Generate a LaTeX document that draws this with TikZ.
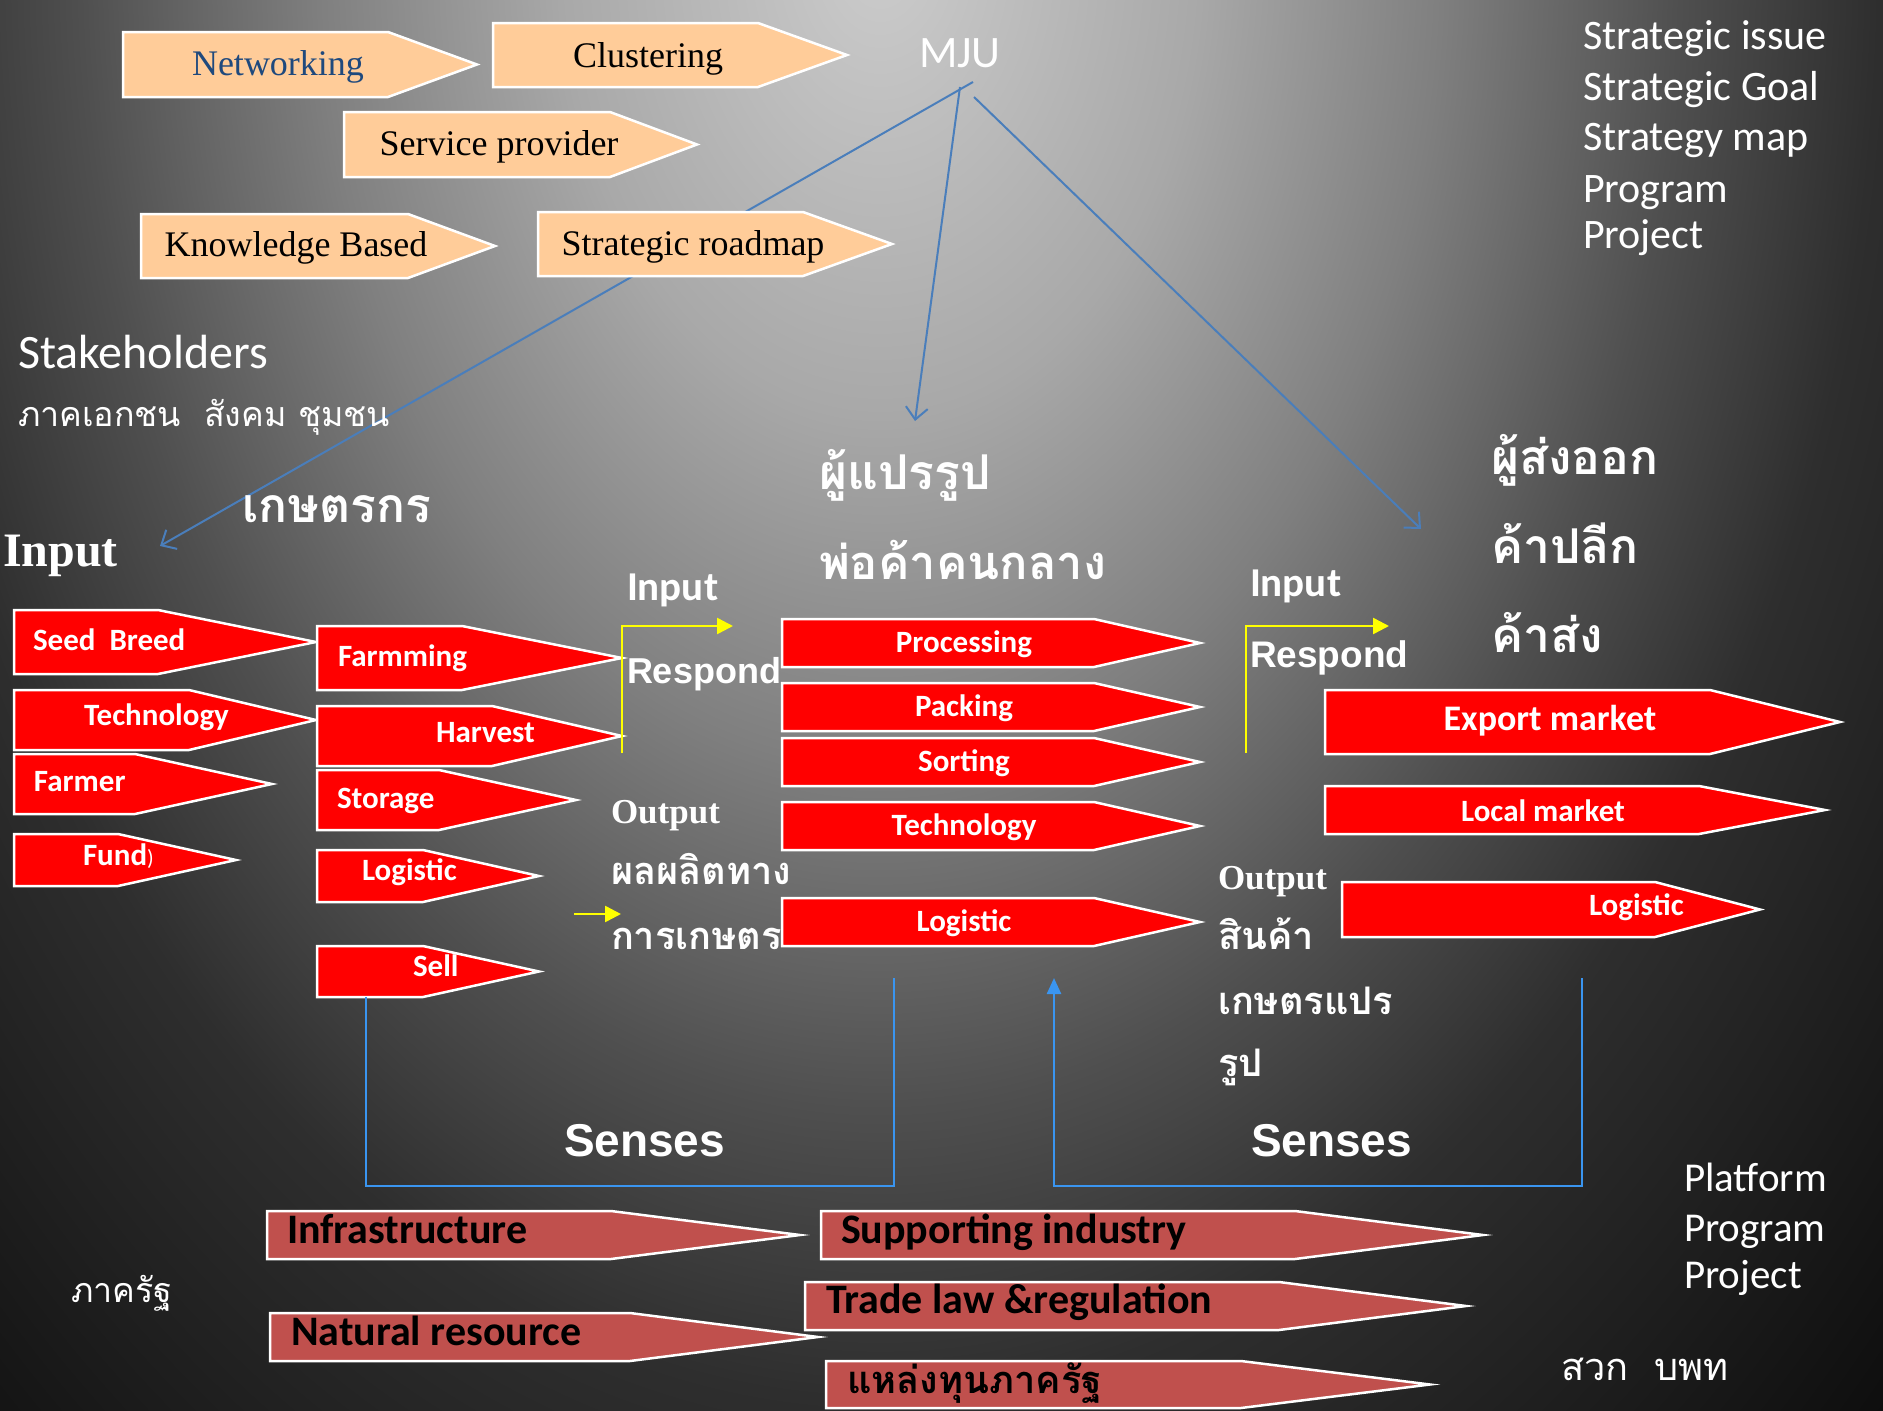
\documentclass[tikz,border=0pt]{standalone}
\usepackage{fontspec}
\setmainfont{Carlito}
\newfontfamily\timesf{Liberation Serif}
\newfontfamily\arialf{Liberation Sans}
\newfontfamily\thaif[Script=Thai]{Loma}
\usetikzlibrary{arrows.meta}
\definecolor{peach}{HTML}{FFCC99}
\definecolor{boxred}{HTML}{FF0000}
\definecolor{brick}{HTML}{C0504D}
\definecolor{linkblue}{HTML}{4A7EBB}
\definecolor{senseblue}{HTML}{3A95F0}
\definecolor{navy}{HTML}{1F497D}
\definecolor{yel}{HTML}{FFFF00}
\definecolor{bg0}{gray}{0.80}
\definecolor{bg1}{gray}{0.66}
\definecolor{bg2}{gray}{0.50}
\definecolor{bg3}{gray}{0.31}
\definecolor{bg4}{gray}{0.18}
\definecolor{bg5}{gray}{0.05}
\pgfdeclareradialshading{bgshade}{\pgfpointorigin}{color(0bp)=(bg0); color(4bp)=(bg1); color(7bp)=(bg2); color(10bp)=(bg3); color(12.5bp)=(bg4); color(18bp)=(bg5); color(25bp)=(bg5); color(50bp)=(bg5)}
\newcommand\fsz[1]{\fontsize{#1}{#1}\selectfont}
\newcommand\pent[6]{\path[#1] (#2,#5) -- (#3,#5) -- (#4,{(#5+#6)/2}) -- (#3,#6) -- (#2,#6) -- cycle;}
\begin{document}
\begin{tikzpicture}[x=1pt,y=-1pt,
  txt/.style={inner sep=0pt, outer sep=0pt, text=white, anchor=base west},
  ctxt/.style={inner sep=0pt, outer sep=0pt, anchor=base},
  peachbox/.style={fill=peach, draw=white, line width=2.5pt},
  redbox/.style={fill=boxred, draw=white, line width=2.5pt},
  brickbox/.style={fill=brick, draw=white, line width=2.5pt},
  peachtxt/.style={ctxt, font=\timesf\fsz{36}, text=black},
  redtxt/.style={txt, font=\bfseries\fsz{31}},
  redctxt/.style={ctxt, text=white, font=\bfseries\fsz{31}},
  bricktxt/.style={txt, text=black, font=\bfseries\fsz{42}},
  mjulink/.style={draw=linkblue, line width=2pt, -{Straight Barb[length=12pt,width=22pt,line width=2pt]}},
  yelline/.style={draw=yel, line width=2.5pt},
  yelarrow/.style={yelline, -{Triangle[length=16pt,width=16pt]}},
  senseline/.style={draw=senseblue, line width=2.5pt},
  sensearrow/.style={senseline, -{Triangle[length=16pt,width=14pt]}},
  plain/.style={txt, font=\fsz{42}},
  thaireg/.style={txt, font=\thaif\fsz{38}},
  thaibold/.style={txt, font=\thaif\bfseries\fsz{38}},
  thaibig/.style={txt, font=\thaif\bfseries\fsz{48}}
]
\useasboundingbox (0,0) rectangle (1883,1411);
% background
\begin{scope}
\clip (0,0) rectangle (1883,1411);
\fill[bg5] (0,0) rectangle (1883,1411);
\shade[shading=bgshade] (880,-50) ellipse [x radius=2000, y radius=2900];
\end{scope}

% MJU and its links
\node[txt, font=\fsz{45}] (mju) at (919,67) {MJU};
\coordinate (mjuA) at (973,82);
\coordinate (mjuB) at (960,87);
\coordinate (mjuC) at (974,97);
\coordinate (farmIn) at (160,546);
\coordinate (procIn) at (915,421);
\coordinate (expIn) at (1421,529);
\draw[mjulink] (mjuA) -- (farmIn);
\draw[mjulink] (mjuB) -- (procIn);
\draw[mjulink] (mjuC) -- (expIn);

% peach strategy boxes
\pent{peachbox}{123}{388}{477}{32}{97}
\node[peachtxt, text=navy] (net) at (278,75) {Networking};
\pent{peachbox}{493}{758}{847}{23}{87}
\node[peachtxt] (clu) at (648,67) {Clustering};
\pent{peachbox}{344}{610}{697}{112}{177}
\node[peachtxt] (svc) at (499,155) {Service provider};
\pent{peachbox}{141}{408}{495}{214}{278}
\node[peachtxt] (kb) at (296,256) {Knowledge Based};
\pent{peachbox}{538}{803}{892}{212}{276}
\node[peachtxt] (srm) at (693,255) {Strategic roadmap};

% right list
\node[plain] (s1) at (1583,49) {Strategic issue};
\node[plain] (s2) at (1583,100) {Strategic Goal};
\node[plain] (s3) at (1583,150) {Strategy map};
\node[plain] (s4) at (1583,202) {Program};
\node[plain] (s5) at (1583,248) {Project};

% stakeholders
\node[txt, font=\fsz{48}] (stk) at (18,368) {Stakeholders};
\node[txt, font=\thaif\fsz{34}] (stk2) at (18,426) {ภาคเอกชน~~สังคม ชุมชน};
\node[txt, font=\thaif\bfseries\fsz{48}] (farmer) at (242,522) {เกษตรกร};
\node[txt, font=\timesf\bfseries\fsz{48}] (inp) at (3,566) {Input};

% column 1
\pent{redbox}{14}{158}{316}{610}{674}
\node[redtxt] (c1a) at (33,650) {Seed~~Breed};
\pent{redbox}{14}{189}{316}{690}{750}
\node[redtxt] (c1b) at (84,725) {Technology};
\pent{redbox}{14}{135}{272}{754}{814}
\node[redtxt] (c1c) at (34,791) {Farmer};
\pent{redbox}{14}{118}{236}{834}{886}
\node[redtxt] (c1d) at (83,865) {Fund{\mdseries\fsz{22})}};

% column 2
\pent{redbox}{317}{462}{622}{626}{690}
\node[redtxt] (c2a) at (338,666) {Farmming};
\pent{redbox}{317}{492}{622}{706}{766}
\node[redtxt] (c2b) at (436,742) {Harvest};
\pent{redbox}{317}{439}{576}{770}{830}
\node[redtxt] (c2c) at (337,808) {Storage};
\pent{redbox}{317}{423}{539}{850}{902}
\node[redtxt] (c2d) at (362,880) {Logistic};
\pent{redbox}{317}{423}{539}{946}{997}
\node[redtxt] (c2e) at (413,976) {Sell};

% first input / respond / output
\coordinate (y1a) at (622,753);
\coordinate (y1b) at (622,626);
\coordinate (y1c) at (733,626);
\draw[yelarrow] (y1a) -- (y1b) -- (y1c);
\node[txt, font=\bfseries\fsz{41}] (in2) at (627,600) {Input};
\node[txt, font=\arialf\bfseries\fsz{36}] (re2) at (627,683) {Respond};
\node[txt, font=\timesf\bfseries\fsz{35}] (out1) at (611,823) {Output};
\node[thaibold] (out1a) at (611,884) {ผลผลิตทาง};
\node[thaibold] (out1b) at (611,949) {การเกษตร};
\coordinate (y2a) at (574,914);
\coordinate (y2b) at (621,914);
\draw[yelarrow] (y2a) -- (y2b);

% processors
\node[thaibig] (proc1) at (819,489) {ผู้แปรรูป};
\node[txt, font=\thaif\bfseries\fsz{47}] (proc2) at (819,579) {พ่อค้าคนกลาง};
\pent{redbox}{782}{1094}{1200}{619}{667}
\node[redctxt] (m1) at (964,652) {Processing};
\pent{redbox}{782}{1094}{1200}{683}{731}
\node[redctxt] (m2) at (964,716) {Packing};
\pent{redbox}{782}{1094}{1200}{738}{786}
\node[redctxt] (m3) at (964,771) {Sorting};
\pent{redbox}{782}{1094}{1200}{802}{850}
\node[redctxt] (m4) at (964,835) {Technology};
\pent{redbox}{782}{1094}{1200}{898}{946}
\node[redctxt] (m5) at (964,931) {Logistic};

% second input / respond / output
\coordinate (y3a) at (1246,753);
\coordinate (y3b) at (1246,626);
\coordinate (y3c) at (1389,626);
\draw[yelarrow] (y3a) -- (y3b) -- (y3c);
\node[txt, font=\bfseries\fsz{41}] (in3) at (1250,596) {Input};
\node[txt, font=\arialf\bfseries\fsz{37}] (re3) at (1250,667) {Respond};
\node[txt, font=\timesf\bfseries\fsz{35}] (out2) at (1218,889) {Output};
\node[thaibold] (out2a) at (1218,949) {สินค้า};
\node[thaibold] (out2b) at (1218,1014) {เกษตรแปร};
\node[thaibold] (out2c) at (1218,1076) {รูป};

% exporters
\node[thaibig] (exp1) at (1491,474) {ผู้ส่งออก};
\node[thaibig] (exp2) at (1491,563) {ค้าปลีก};
\node[thaibig] (exp3) at (1491,652) {ค้าส่ง};
\pent{redbox}{1325}{1710}{1840}{690}{754}
\node[ctxt, text=white, font=\bfseries\fsz{36}] (r1) at (1550,730) {Export market};
\pent{redbox}{1325}{1699}{1825}{786}{834}
\node[redctxt] (r2) at (1543,821) {Local market};
\pent{redbox}{1342}{1655}{1760}{882}{937}
\node[redtxt] (r3) at (1589,915) {Logistic};

% senses brackets
\coordinate (sa) at (366,997);
\coordinate (sb) at (366,1186);
\coordinate (sc) at (894,1186);
\coordinate (sd) at (894,978);
\draw[senseline] (sa) -- (sb) -- (sc) -- (sd);
\coordinate (se) at (1582,978);
\coordinate (sf) at (1582,1186);
\coordinate (sg) at (1054,1186);
\coordinate (sh) at (1054,978);
\draw[sensearrow] (se) -- (sf) -- (sg) -- (sh);
\node[txt, font=\arialf\bfseries\fsz{46}] (sen1) at (564,1156) {Senses};
\node[txt, font=\arialf\bfseries\fsz{46}] (sen2) at (1251,1156) {Senses};

% government platform
\pent{brickbox}{267}{611}{800}{1211}{1259}
\node[bricktxt] (b1) at (287,1243) {Infrastructure};
\pent{brickbox}{270}{630}{818}{1313}{1361}
\node[bricktxt] (b2) at (291,1345) {Natural resource};
\pent{brickbox}{821}{1295}{1483}{1211}{1259}
\node[bricktxt] (b3) at (841,1243) {Supporting industry};
\pent{brickbox}{805}{1279}{1466}{1282}{1330}
\node[bricktxt] (b4) at (826,1313) {Trade law \&regulation};
\pent{brickbox}{826}{1241}{1430}{1361}{1408}
\node[txt, text=black, font=\thaif\bfseries\fsz{38}] (b5) at (847,1393) {แหล่งทุนภาครัฐ};

\node[txt, font=\thaif\fsz{34}] (gov) at (71,1302) {ภาครัฐ};
\node[plain, font=\fsz{41}] (p1) at (1684,1191) {Platform};
\node[plain, font=\fsz{41}] (p2) at (1684,1241) {Program};
\node[plain, font=\fsz{41}] (p3) at (1684,1288) {Project};
\node[thaireg] (org) at (1561,1380) {สวก~~บพท};
\end{tikzpicture}
\end{document}
